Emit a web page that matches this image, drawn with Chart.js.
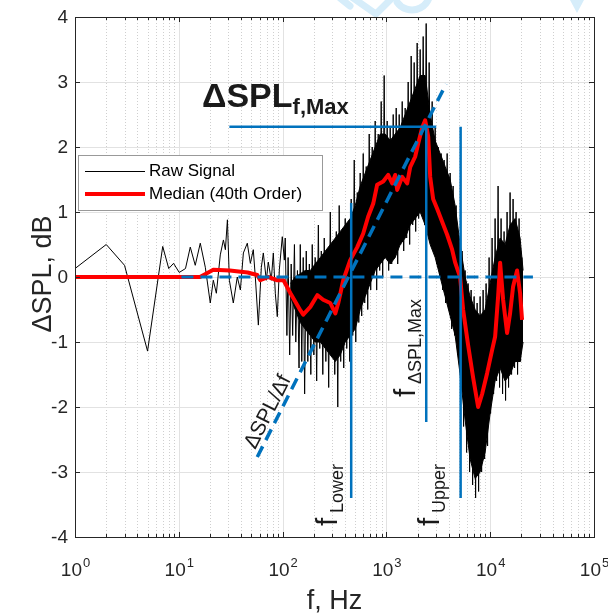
<!DOCTYPE html>
<html>
<head>
<meta charset="utf-8">
<script src="https://cdn.jsdelivr.net/npm/chart.js@4.4.1/dist/chart.umd.min.js"></script>
<style>
  html, body { margin: 0; padding: 0; background: #fff; }
  canvas { display: block; }
</style>
</head>
<body>
<canvas id="chart" width="608" height="613"></canvas>
<script>
// raw ΔSPL spectrum (Hz, dB) - sparse low end, then the dense part as hi/lo swings
const rawFreq = [
  1, 2, 3, 5, 7, 8, 8.9, 10.1, 11.6, 12.9, 14.4, 16.1, 18.0, 20.1, 21.5, 23.0,
  25.1, 26.9, 28.1, 29.4, 30.7, 33.5, 36.6, 39.2, 41.9, 45.7, 48.9, 52.2, 54.6, 58.4, 62.4, 65.2,
  69.7, 72.8, 77.8, 81.4, 85.1, 88.9, 93.0, 99.3, 104,
  106, 110, 113, 117, 121, 125, 130, 134, 139, 144, 148, 153, 158, 163, 169, 175,
  181, 187, 193, 200, 206, 213, 221, 228, 236, 244, 252, 261, 269, 278, 288, 298,
  308, 318, 329, 340, 351, 363, 375, 388, 401, 415, 429, 443, 458, 474, 490, 507,
  524, 542, 559, 578, 598, 618, 639, 661, 683, 706, 730, 755, 780, 806, 834, 862,
  891, 921, 952, 984, 1018, 1052, 1088, 1125, 1163, 1202, 1243, 1285, 1328, 1373, 1420, 1468,
  1517, 1568, 1621, 1676, 1733, 1792, 1852, 1915, 1979, 2046, 2115, 2187, 2261, 2337, 2417, 2499,
  2582, 2669, 2760, 2853, 2950, 3050, 3152, 3259, 3368, 3482, 3600, 3722, 3848, 3978, 4113, 4252,
  4395, 4544, 4697, 4856, 5020, 5190, 5364, 5545, 5733, 5927, 6128, 6335, 6549, 6771, 6998, 7235,
  7480, 7733, 7995, 8265, 8545, 8834, 9130, 9439, 9759, 10089, 10430, 10783, 11148, 11525, 11912, 12315,
  12732, 13163, 13608, 14068, 14545, 15037, 15542, 16068, 16612, 17174, 17755, 18356, 18977, 19619, 20277
];
const rawVal = [
  0.13, 0.5, 0.18, -1.14, 0.47, 0.13, 0.21, 0.07, 0.13, 0.46, 0.18, 0.52, 0.15, -0.4, -0.05, -0.25,
  0.34, 0.57, 0.42, 0.88, -0.05, -0.4, 0, -0.2, 0.37, 0.52, 0.21, 0.42, 0, -0.74, 0.15, 0.37,
  -0.05, 0.23, -0.05, 0.37, -0.25, -0.61, 0.11, 0.62, 0.26,
  0.6, -0.9, 0.3, -1.2, 0.2, -0.9, 0.5, -1.0, 0.1, -1.4, 0.5, -1.3, 0.3, -1.8, 0.4, -1.3,
  0.2, -1.5, 0.5, -1.2, 0.3, -1.6, 0.8, -1.1, 0.4, -1.5, 0.6, -1.3, 0.3, -1.7, 1.0, -1.2,
  0.5, -1.5, 0.7, -2.0, 1.1, -1.3, 0.6, -1.4, 0.9, -1.1, 0.8, -1.3, 1.2, -0.9, 1.8, -1.0,
  1.3, -0.7, 1.6, -0.6, 1.9, -0.4, 1.7, -0.5, 2.2, -0.2, 2.0, 0.0, 2.4, -0.2, 2.2, 0.1,
  2.7, 0.0, 3.1, 0.3, 2.4, 0.1, 2.3, 0.2, 2.5, 0.3, 2.6, 0.2, 2.5, 0.5, 2.7, 0.4,
  2.6, 0.6, 3.0, 0.5, 3.4, 0.8, 3.3, 0.7, 3.6, 0.9, 3.5, 1.0, 3.7, 0.8, 3.9, 0.7,
  3.3, 0.6, 2.7, 0.4, 2.3, 0.2, 2.0, 0.0, 1.9, -0.2, 1.8, -0.4, 1.9, -0.5, 1.6, -0.8,
  1.4, -0.9, 1.1, -1.2, 0.5, -1.8, 0.4, -2.3, 0.1, -2.7, -0.1, -3.0, -0.2, -3.2, -0.3, -3.4,
  -0.4, -3.3, -0.3, -3.0, -0.2, -2.8, -0.1, -2.6, 0.3, -2.1, 0.6, -1.8, 0.9, -1.6, 1.4, -1.7,
  0.9, -1.8, 0.7, -1.9, 1.0, -1.7, 1.3, -1.5, 1.2, -1.4, 1.0, -1.5, 0.9, -1.3, 0.3
];

// solid core of the raw trace where it is too dense to resolve
const bandFreq = [
  119, 132, 148, 165, 185, 206, 231, 258, 288, 322, 359, 401, 448, 501, 560, 625,
  698, 780, 872, 974, 1088, 1215, 1358, 1517, 1695, 1893, 2115, 2363, 2640, 2950, 3295, 3681,
  4113, 4594, 5133, 5733, 6406, 7157, 7995, 8931, 9977, 11148, 12453, 13912, 15542, 17365, 19403, 20737
];
const bandHi = [
  -0.1, 0.0, 0.05, 0.1, 0.1, 0.2, 0.3, 0.4, 0.5, 0.6, 0.7, 0.8, 0.9, 1.1, 1.4, 1.6,
  1.8, 2.0, 2.2, 2.2, 2.1, 2.2, 2.3, 2.5, 2.7, 2.9, 3.1, 3.1, 2.5, 2.1, 1.9, 1.7,
  1.5, 1.1, 0.5, 0.0, -0.3, -0.5, -0.6, -0.5, -0.1, 0.3, 0.6, 0.5, 0.8, 0.9, 0.6, 0.1
];
const bandLo = [
  -0.3, -0.5, -0.7, -0.8, -0.9, -1.0, -1.0, -1.1, -1.2, -1.3, -1.2, -1.0, -0.9, -0.8, -0.5, -0.3,
  -0.1, 0.1, 0.2, 0.3, 0.2, 0.3, 0.5, 0.6, 0.8, 0.9, 1.0, 0.8, 0.5, 0.3, 0.0, -0.3,
  -0.6, -0.9, -1.5, -2.2, -2.8, -3.1, -3.0, -2.7, -2.1, -1.6, -1.4, -1.6, -1.5, -1.3, -1.3, -1.0
];

// 40th order median filter of the raw trace
const medFreq = [
  1, 16, 21.5, 31, 46, 57, 61, 73, 89, 102, 119, 148, 158, 185, 216, 246,
  288, 322, 344, 384, 448, 524, 598, 668, 747, 815, 931, 1040, 1137, 1216, 1271, 1420,
  1585, 1695, 1892, 2023, 2213, 2364, 2528, 2642, 2820, 3083, 3444, 3849, 4300, 4600, 5130, 5480,
  6130, 6850, 7650, 8360, 9340, 10440, 11150, 11920, 12460, 13320, 14550, 15540, 16610, 18150, 19410, 20280
];
const medVal = [
  0, 0, 0.11, 0.1, 0.07, 0.03, -0.05, 0, -0.05, -0.05, -0.25, -0.51, -0.58, -0.46, -0.28, -0.35,
  -0.4, -0.56, -0.4, -0.05, 0.26, 0.46, 0.67, 0.93, 1.13, 1.42, 1.47, 1.57, 1.44, 1.57, 1.34, 1.54,
  1.44, 1.69, 1.85, 2.05, 2.3, 2.41, 2.16, 1.54, 1.2, 1.05, 0.85, 0.65, 0.42, 0.22, 0, -0.5,
  -1.05, -1.55, -2.0, -1.8, -1.48, -1.12, -0.92, -0.3, 0.22, -0.35, -0.86, -0.56, -0.15, 0.1, -0.25, -0.66
];

// construction lines
const zeroFreq = [10.6, 25800];
const zeroVal = [0, 0];
const slopeFreq = [57, 3760];
const slopeVal = [-2.77, 2.97];
const peakLevel = 2.31;
const peakFreq = [30.7, 3020];
const fLower = 458;
const fPeak = 2420;
const fUpper = 5190;
const lowerSpan = [1.14, -3.4];
const peakSpan = [2.31, -2.23];
const upperSpan = [2.31, -3.4];

// axes
const xDecades = [1, 10, 100, 1000, 10000, 100000];
const xExponents = ['0', '1', '2', '3', '4', '5'];
const yTicks = [-4, -3, -2, -1, 0, 1, 2, 3, 4];

const FONT = '"Liberation Sans", Arial, Helvetica, sans-serif';
const AXIS = '#262626';
const BLUE = '#0072BD';

const pts = (xs, ys) => xs.map((x, i) => ({ x: x, y: ys[i] }));
const vline = (f, span) => [{ x: f, y: span[0] }, { x: f, y: span[1] }];

function line(ctx, x1, y1, x2, y2) {
  ctx.beginPath();
  ctx.moveTo(x1, y1);
  ctx.lineTo(x2, y2);
  ctx.stroke();
}

// base text followed by a lowered subscript, drawn from the current origin
function textWithSub(ctx, x, y, base, sub, baseFont, subFont, gap, drop) {
  ctx.font = baseFont;
  ctx.fillText(base, x, y);
  const w = gap != null ? gap : ctx.measureText(base).width;
  ctx.font = subFont;
  ctx.fillText(sub, x + w, y + drop);
}

const gridPlugin = {
  id: 'grid',
  beforeDraw(chart) {
    // faint stamp along the top edge of the page
    const { ctx } = chart;
    ctx.save();
    ctx.strokeStyle = '#d6edfa';
    ctx.lineWidth = 7;
    ctx.lineCap = 'round';
    ctx.beginPath();
    ctx.moveTo(353, -2);
    ctx.lineTo(376, 14);
    ctx.lineTo(392, -2);
    ctx.stroke();
    ctx.beginPath();
    ctx.arc(412, -8, 18, 0.3, Math.PI - 0.6);
    ctx.stroke();
    ctx.beginPath();
    ctx.moveTo(340, -2);
    ctx.lineTo(350, 6);
    ctx.stroke();
    ctx.fillStyle = '#d6edfa';
    ctx.beginPath();
    ctx.moveTo(570, 0);
    ctx.lineTo(584, 0);
    ctx.lineTo(577, 13);
    ctx.closePath();
    ctx.fill();
    ctx.restore();
  },
  beforeDatasetsDraw(chart) {
    const { ctx, chartArea: a, scales: { x, y } } = chart;
    ctx.save();
    ctx.lineWidth = 1;
    ctx.strokeStyle = '#cfcfcf';
    ctx.setLineDash([1, 2]);
    xDecades.slice(0, -1).forEach((d) => {
      for (let m = 2; m <= 9; m++) {
        const px = Math.round(x.getPixelForValue(d * m)) + 0.5;
        line(ctx, px, a.top, px, a.bottom);
      }
    });
    ctx.setLineDash([]);
    ctx.strokeStyle = '#e2e2e2';
    xDecades.forEach((d) => {
      const px = Math.round(x.getPixelForValue(d)) + 0.5;
      line(ctx, px, a.top, px, a.bottom);
    });
    yTicks.forEach((v) => {
      const py = Math.round(y.getPixelForValue(v)) + 0.5;
      line(ctx, a.left, py, a.right, py);
    });
    ctx.restore();
  },
  afterDraw(chart) {
    const { ctx, chartArea: a, scales: { x, y } } = chart;
    ctx.save();

    // box and inward ticks
    ctx.strokeStyle = AXIS;
    ctx.lineWidth = 1;
    ctx.strokeRect(Math.round(a.left) + 0.5, Math.round(a.top) + 0.5,
      Math.round(a.right - a.left), Math.round(a.bottom - a.top));
    xDecades.forEach((d, i) => {
      const px = Math.round(x.getPixelForValue(d)) + 0.5;
      line(ctx, px, a.bottom, px, a.bottom - 5);
      line(ctx, px, a.top, px, a.top + 5);
      if (i < xDecades.length - 1) {
        for (let m = 2; m <= 9; m++) {
          const mx = Math.round(x.getPixelForValue(d * m)) + 0.5;
          line(ctx, mx, a.bottom, mx, a.bottom - 3);
          line(ctx, mx, a.top, mx, a.top + 3);
        }
      }
    });
    yTicks.forEach((v) => {
      const py = Math.round(y.getPixelForValue(v)) + 0.5;
      line(ctx, a.left, py, a.left + 5, py);
      line(ctx, a.right, py, a.right - 5, py);
    });

    // tick labels
    ctx.fillStyle = AXIS;
    ctx.font = '19px ' + FONT;
    ctx.textAlign = 'right';
    ctx.textBaseline = 'middle';
    yTicks.forEach((v) => {
      ctx.fillText(String(v), a.left - 7, y.getPixelForValue(v) + 1);
    });
    ctx.textBaseline = 'alphabetic';
    ctx.textAlign = 'left';
    xDecades.forEach((d, i) => {
      ctx.font = '19px ' + FONT;
      const wb = ctx.measureText('10').width;
      ctx.font = '13px ' + FONT;
      const we = ctx.measureText(xExponents[i]).width;
      const left = x.getPixelForValue(d) - (wb + we) / 2;
      ctx.font = '19px ' + FONT;
      ctx.fillText('10', left, 576);
      ctx.font = '13px ' + FONT;
      ctx.fillText(xExponents[i], left + wb + 1, 567);
    });

    // axis titles
    ctx.font = '27px ' + FONT;
    ctx.textAlign = 'center';
    ctx.fillText('f, Hz', (a.left + a.right) / 2, 609);
    ctx.save();
    ctx.translate(51, 274);
    ctx.rotate(-Math.PI / 2);
    ctx.fillText('ΔSPL, dB', 0, 0);
    ctx.restore();

    // annotation text
    ctx.fillStyle = '#1a1a1a';
    ctx.textAlign = 'left';
    textWithSub(ctx, 202, 107, 'ΔSPL', 'f,Max', 'bold 34px ' + FONT, 'bold 22px ' + FONT, null, 7);

    const sx0 = x.getPixelForValue(slopeFreq[0]);
    const sy0 = y.getPixelForValue(slopeVal[0]);
    const sx1 = x.getPixelForValue(slopeFreq[1]);
    const sy1 = y.getPixelForValue(slopeVal[1]);
    ctx.save();
    ctx.translate(268, 412);
    ctx.rotate(Math.atan2(sy1 - sy0, sx1 - sx0));
    ctx.font = '21px ' + FONT;
    ctx.textAlign = 'center';
    ctx.textBaseline = 'middle';
    ctx.fillText('ΔSPL/Δf', 0, 0);
    ctx.restore();

    const upright = (px, py, sub) => {
      ctx.save();
      ctx.translate(px, py);
      ctx.rotate(-Math.PI / 2);
      textWithSub(ctx, 0, 0, 'f', sub, '30px ' + FONT, '18px ' + FONT, 13, 6);
      ctx.restore();
    };
    upright(x.getPixelForValue(fLower) - 14, 526, 'Lower');
    upright(x.getPixelForValue(fPeak) - 11, 397, 'ΔSPL,Max');
    upright(x.getPixelForValue(fUpper) - 22, 526, 'Upper');

    // legend
    const lx = 78.5, ly = 155.5, lw = 244, lh = 55;
    ctx.fillStyle = '#fff';
    ctx.fillRect(lx, ly, lw, lh);
    ctx.strokeStyle = '#999';
    ctx.lineWidth = 1;
    ctx.strokeRect(lx, ly, lw, lh);
    ctx.strokeStyle = '#000';
    ctx.lineWidth = 1;
    line(ctx, 85, 171.5, 145, 171.5);
    ctx.strokeStyle = '#ff0000';
    ctx.lineWidth = 4;
    line(ctx, 85, 194, 145, 194);
    ctx.fillStyle = '#000';
    ctx.font = '17px ' + FONT;
    ctx.textAlign = 'left';
    ctx.textBaseline = 'middle';
    ctx.fillText('Raw Signal', 149, 171);
    ctx.fillText('Median (40th Order)', 149, 194);

    ctx.restore();
  }
};

new Chart(document.getElementById('chart'), {
  type: 'line',
  data: {
    datasets: [
      { data: pts(zeroFreq, zeroVal), borderColor: BLUE, borderWidth: 3, borderDash: [12, 7], order: 0 },
      { data: pts(slopeFreq, slopeVal), borderColor: BLUE, borderWidth: 3.5, borderDash: [12, 7], order: 0 },
      { data: pts(peakFreq, [peakLevel, peakLevel]), borderColor: BLUE, borderWidth: 2.5, order: 0 },
      { data: vline(fLower, lowerSpan), borderColor: BLUE, borderWidth: 2.5, order: 0 },
      { data: vline(fPeak, peakSpan), borderColor: BLUE, borderWidth: 2.5, order: 0 },
      { data: vline(fUpper, upperSpan), borderColor: BLUE, borderWidth: 2.5, order: 0 },
      { data: pts(medFreq, medVal), borderColor: '#ff0000', borderWidth: 4, borderJoinStyle: 'round', order: 1 },
      { data: pts(rawFreq, rawVal), borderColor: '#000', borderWidth: 1, order: 2 },
      { data: pts(bandFreq, bandHi), borderColor: '#000', borderWidth: 1, backgroundColor: '#000', fill: '+1', order: 3 },
      { data: pts(bandFreq, bandLo), borderColor: '#000', borderWidth: 1, order: 4 }
    ]
  },
  options: {
    responsive: false,
    animation: false,
    events: [],
    layout: { padding: { left: 75, right: 14, top: 17, bottom: 76 } },
    elements: { point: { radius: 0 }, line: { tension: 0, fill: false } },
    plugins: { legend: { display: false }, tooltip: { enabled: false } },
    scales: {
      x: { type: 'logarithmic', min: 1, max: 100000, display: false },
      y: { type: 'linear', min: -4, max: 4, display: false }
    }
  },
  plugins: [gridPlugin]
});
</script>
</body>
</html>
